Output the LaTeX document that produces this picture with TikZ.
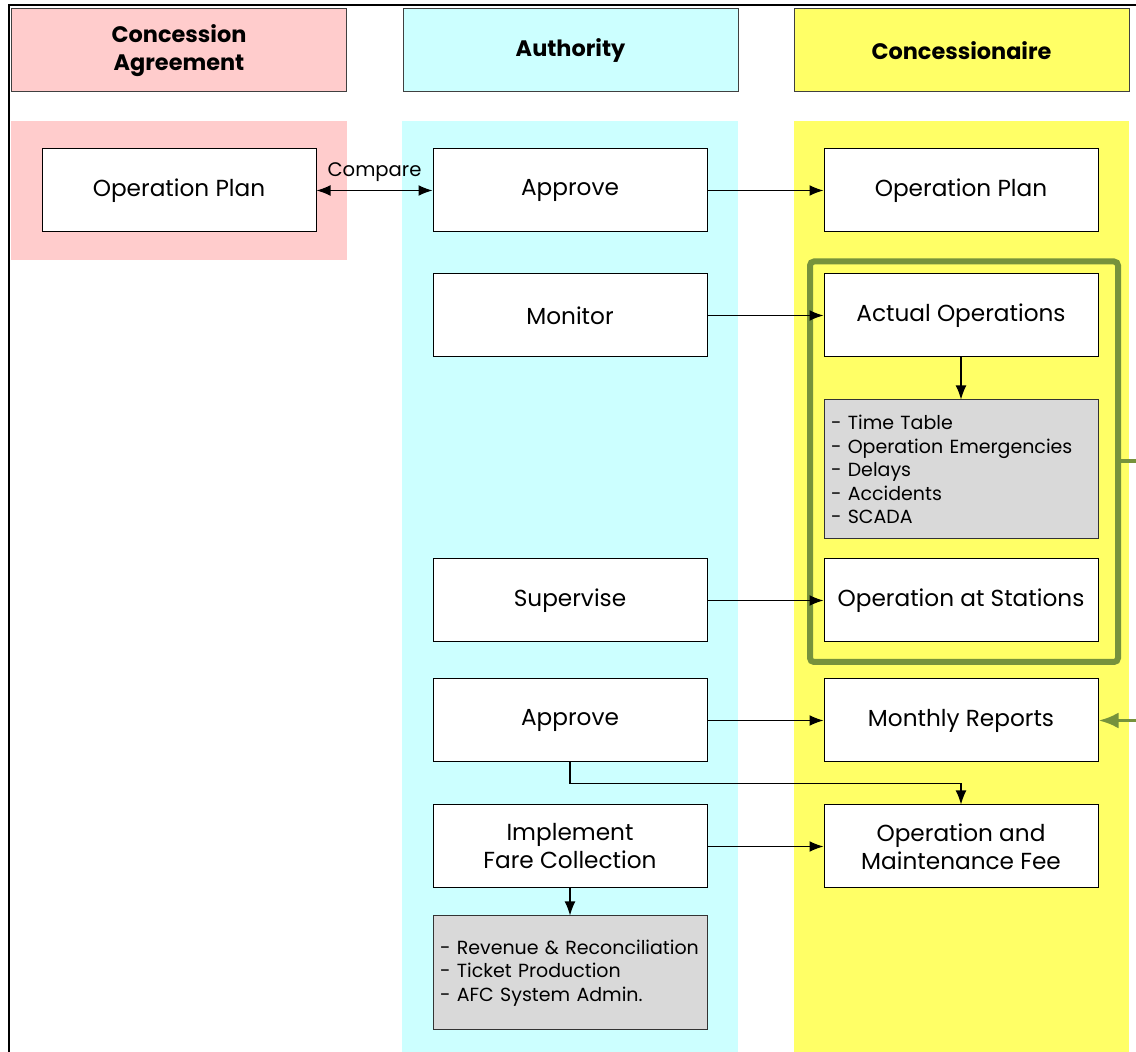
\documentclass[tikz,border=0pt]{standalone}
\usepackage{fontspec}
\setmainfont{Poppins}
\usetikzlibrary{arrows.meta}
\definecolor{capink}{HTML}{FFCCCC}
\definecolor{aucyan}{HTML}{CCFFFF}
\definecolor{coyellow}{HTML}{FFFF66}
\definecolor{listgray}{HTML}{D9D9D9}
\definecolor{olive}{HTML}{76923C}
\tikzset{ftip/.tip={Latex[length=7pt,width=5.4pt]}}
\begin{document}
\begin{tikzpicture}[x=0.5pt,y=-0.5pt,
  header/.style={draw=black!75,line width=0.5pt,minimum width=167.5pt,minimum height=41.5pt,
    inner sep=0pt,align=center,font=\fontsize{11.2}{14}\selectfont\bfseries},
  box/.style={draw=black,fill=white,line width=0.5pt,minimum width=137pt,minimum height=41.5pt,
    inner sep=0pt,align=center,font=\fontsize{11.6}{14}\selectfont},
  listbox/.style={draw=black!80,fill=listgray,line width=0.5pt,text width=130pt,inner xsep=3.5pt,
    inner ysep=0pt,align=left,font=\fontsize{9.5}{11.8}\selectfont},
  link/.style={line width=0.6pt,-ftip},
  greenlink/.style={olive,line width=1.8pt}]
\useasboundingbox (0,0) rectangle (1136,1052);
% lane backgrounds
\fill[capink] (11,121) rectangle (347,260);
\fill[aucyan] (402,121) rectangle (738,1052);
\fill[coyellow] (794,121) rectangle (1129,1052);
% outer frame
\draw[line width=1.2pt] (9,1052) -- (9,5) -- (1136,5);
% lane headers
\node[header,fill=capink] (hca) at (179,50.5) {Concession\\Agreement};
\node[header,fill=aucyan] (hau) at (570.5,50.5) {Authority};
\node[header,fill=coyellow] (hco) at (961.5,50.5) {Concessionaire};
% process boxes
\node[box] (planca) at (179,190.5) {Operation Plan};
\node[box] (appr1) at (570,190.5) {Approve};
\node[box] (planco) at (961,190.5) {Operation Plan};
\node[box] (monitor) at (570,315.5) {Monitor};
\node[box] (actual) at (961,315.5) {Actual Operations};
\node[listbox,minimum height=69.5pt] (oplist) at (961,469.5)
  {- Time Table\\- Operation Emergencies\\- Delays\\- Accidents\\- SCADA};
\node[box] (superv) at (570,600.5) {Supervise};
\node[box] (stations) at (961,600.5) {Operation at Stations};
\node[box] (appr2) at (570,720.5) {Approve};
\node[box] (monthly) at (961,720.5) {Monthly Reports};
\node[box] (fare) at (570,846.5) {Implement\\Fare Collection};
\node[box] (fee) at (961,846.5) {Operation and\\Maintenance Fee};
\node[listbox,minimum height=57pt] (farelist) at (570,973)
  {- Revenue \& Reconciliation\\- Ticket Production\\- AFC System Admin.};
% grouping frame around operations
\draw[olive,line width=3pt,rounded corners=2pt] (810,261.5) rectangle (1118,662);
\coordinate (gright) at (1118,461);
\coordinate (gout) at (1136,461);
\coordinate (gin) at (1136,720.5);
\draw[greenlink] (gright) -- (gout);
\draw[greenlink,-{Latex[length=10pt,width=8pt]}] (gin) -- (monthly.east);
% connectors
\draw[line width=0.6pt,ftip-ftip] (planca.east) -- node[above=1pt,font=\fontsize{9.8}{11}\selectfont] {Compare} (appr1.west);
\draw[link] (appr1.east) -- (planco.west);
\draw[link] (monitor.east) -- (actual.west);
\draw[link] (actual.south) -- (oplist.north);
\draw[link] (superv.east) -- (stations.west);
\draw[link] (appr2.east) -- (monthly.west);
\draw[link] (appr2.south) -- ++(0,21) -| (fee.north);
\draw[link] (fare.east) -- (fee.west);
\draw[link] (fare.south) -- (farelist.north);
\end{tikzpicture}
\end{document}
